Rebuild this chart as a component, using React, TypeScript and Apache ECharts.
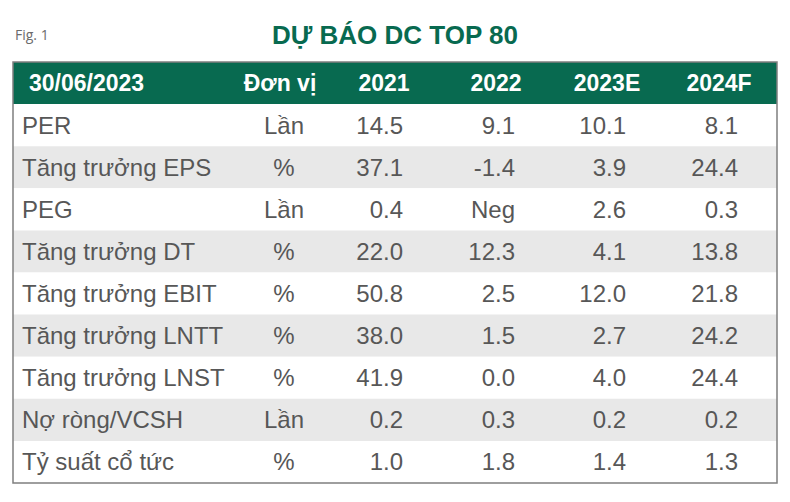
import React, { useEffect, useRef } from "react";
import * as echarts from "echarts";

const titleText = "DỰ BÁO DC TOP 80";
const figText = "Fig. 1";
const headerDate = "30/06/2023";
const unitHeader = "Đơn vị";
const years = ["2021", "2022", "2023E", "2024F"];
const rowLabels = [
  "PER",
  "Tăng trưởng EPS",
  "PEG",
  "Tăng trưởng DT",
  "Tăng trưởng EBIT",
  "Tăng trưởng LNTT",
  "Tăng trưởng LNST",
  "Nợ ròng/VCSH",
  "Tỷ suất cổ tức",
];
const units = ["Lần", "%", "Lần", "%", "%", "%", "%", "Lần", "%"];
const v2021: (number | string)[] = [14.5, 37.1, 0.4, 22.0, 50.8, 38.0, 41.9, 0.2, 1.0];
const v2022: (number | string)[] = [9.1, -1.4, "Neg", 12.3, 2.5, 1.5, 0.0, 0.3, 1.8];
const v2023E: (number | string)[] = [10.1, 3.9, 2.6, 4.1, 12.0, 2.7, 4.0, 0.2, 1.4];
const v2024F: (number | string)[] = [8.1, 24.4, 0.3, 13.8, 21.8, 24.2, 24.4, 0.2, 1.3];

const valueCols = [v2021, v2022, v2023E, v2024F];

// layout (table-relative x units, table width 764)
const TABLE_W = 764;
const LABEL_X = 9;
const DATE_X = 16;
const UNIT_X = 271;
const UNIT_HEAD_X = 267;
const YEAR_HEAD_X = [371, 483, 594, 706];
const YEAR_VAL_RIGHT = [390, 502, 613, 725];

const GREEN = "#086a50";
const TEXT = "#575757";
const BAND = "#e8e8e8";
const HEAD_FONT = 'bold 23px "Liberation Sans", Arial, sans-serif';
const BODY_FONT = '24px "Liberation Sans", Arial, sans-serif';

const fmt = (v: number | string) => (typeof v === "number" ? v.toFixed(1) : v);

export default function App() {
  const ref = useRef<HTMLDivElement>(null);
  useEffect(() => {
    if (!ref.current) return;
    const chart = echarts.init(ref.current, null, { renderer: "svg" });
    const yCats = ["header", ...rowLabels];
    const data = yCats.map((_, i) => [0, i]);

    const renderItem = (params: any, api: any) => {
      const i = api.value(1) as number;
      const c = api.coord([0, i]);
      const h = api.size([0, 1])[1];
      const top = c[1] - h / 2;
      const cy = c[1];
      const x0 = params.coordSys.x;
      const w = params.coordSys.width;
      const X = (rel: number) => api.coord([rel, i])[0];
      const children: any[] = [];
      if (i === 0) {
        children.push({
          type: "rect",
          shape: { x: x0, y: top, width: w, height: h },
          style: { fill: GREEN },
        });
        children.push({
          type: "text",
          style: { text: headerDate, x: X(DATE_X), y: cy, align: "left", verticalAlign: "middle", fill: "#ffffff", font: HEAD_FONT },
        });
        children.push({
          type: "text",
          style: { text: unitHeader, x: X(UNIT_HEAD_X), y: cy, align: "center", verticalAlign: "middle", fill: "#ffffff", font: HEAD_FONT },
        });
        years.forEach((yr, k) => {
          children.push({
            type: "text",
            style: { text: yr, x: X(YEAR_HEAD_X[k]), y: cy, align: "center", verticalAlign: "middle", fill: "#ffffff", font: HEAD_FONT },
          });
        });
      } else {
        const r = i - 1;
        children.push({
          type: "rect",
          shape: { x: x0, y: top, width: w, height: h },
          style: { fill: r % 2 === 1 ? BAND : "#ffffff" },
        });
        children.push({
          type: "text",
          style: { text: rowLabels[r], x: X(LABEL_X), y: cy, align: "left", verticalAlign: "middle", fill: TEXT, font: BODY_FONT },
        });
        children.push({
          type: "text",
          style: { text: units[r], x: X(UNIT_X), y: cy, align: "center", verticalAlign: "middle", fill: TEXT, font: BODY_FONT },
        });
        valueCols.forEach((col, k) => {
          children.push({
            type: "text",
            style: { text: fmt(col[r]), x: X(YEAR_VAL_RIGHT[k]), y: cy, align: "right", verticalAlign: "middle", fill: TEXT, font: BODY_FONT },
          });
        });
      }
      return { type: "group", children };
    };

    chart.setOption({
      animation: false,
      title: {
        text: titleText,
        left: "center",
        top: 17,
        textStyle: {
          color: GREEN,
          fontSize: 26,
          fontWeight: "bold",
          fontFamily: '"Liberation Sans", Arial, sans-serif',
        },
      },
      graphic: [
        {
          type: "text",
          left: 15,
          top: 27,
          style: { text: figText, fill: "#6b6b6b", font: '14px "Open Sans", sans-serif' },
        },
        {
          type: "rect",
          z: 100,
          shape: { x: 13, y: 62, width: 764, height: 421 },
          style: { fill: "none", stroke: "#7f7f7f", lineWidth: 1.5 },
        },
      ],
      grid: { left: 13, right: 13, top: 62, bottom: 19 },
      xAxis: { type: "value", min: 0, max: TABLE_W, show: false },
      yAxis: { type: "category", data: yCats, inverse: true, show: false },
      series: [
        {
          type: "custom",
          renderItem,
          data,
          encode: { x: 0, y: 1 },
          clip: false,
        },
      ],
    });
    return () => chart.dispose();
  }, []);
  return <div ref={ref} style={{ position: "absolute", left: 0, top: 0, width: 790, height: 502 }} />;
}
